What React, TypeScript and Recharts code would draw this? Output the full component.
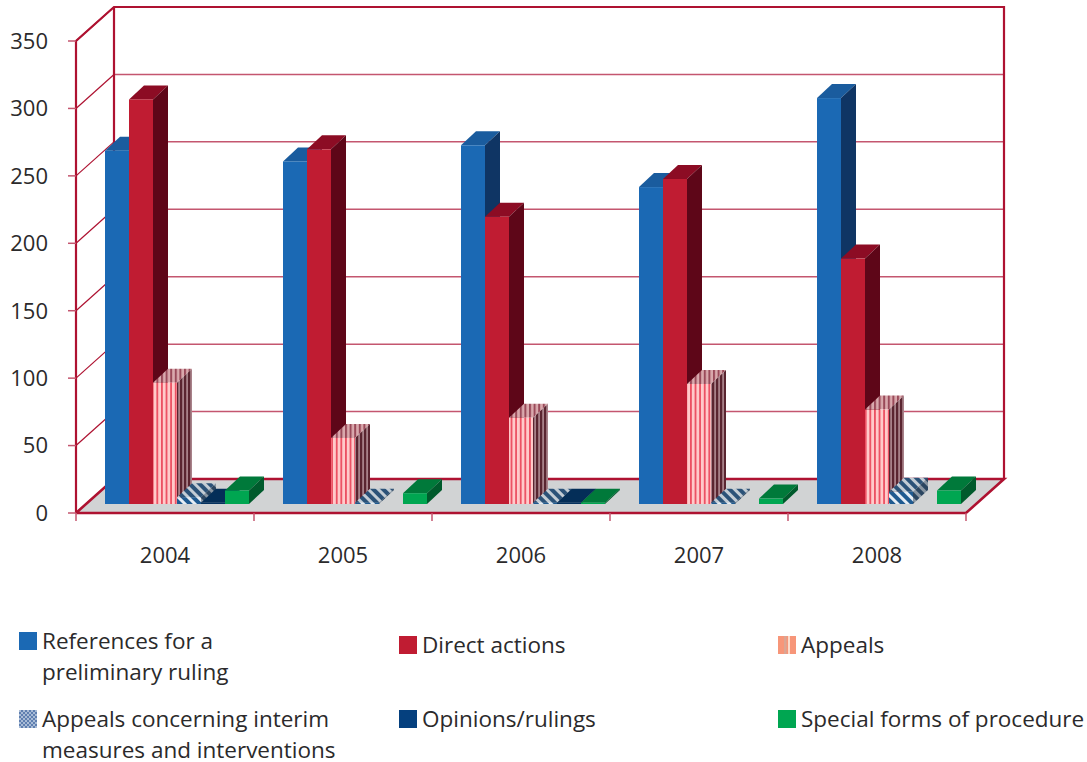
import { BarChart, Bar, XAxis, YAxis, CartesianGrid, Legend } from "recharts";

const years = ["2004", "2005", "2006", "2007", "2008"];
const references = [262, 254, 266, 235, 301];
const directActions = [300, 263, 213, 241, 182];
const appeals = [90, 49, 64, 89, 70];
const interim = [5, 1, 1, 1, 9];
const opinions = [1, 0, 1, 0, 0];
const specialForms = [10, 8, 1, 4, 10];
const yTicks = [0, 50, 100, 150, 200, 250, 300, 350];

const data = years.map((year, i) => ({
  year,
  references: references[i],
  directActions: directActions[i],
  appeals: appeals[i],
  interim: interim[i],
  opinions: opinions[i],
  specialForms: specialForms[i],
}));

const W = 1087;
const H = 762;
const LEFT = 76;
const TOP = 41;
const RIGHT = 966;
const BOTTOM = 513;
// wall depth of the fake 3d box
const DX = 38;
const DY = -34;
const CRIMSON = "#ae1231";
const GRID = "#c4566f";
const FONT = "'Open Sans', sans-serif";
const TEXT = "#2b2a2b";

function Box3D(props: any) {
  const { x, y, width, height, fill, top, side } = props;
  if (!height || height <= 0) return null;
  // bars stand a little inside the floor
  const bx = x + 12;
  const by = y - 9;
  const d = 15;
  const h = -14;
  return (
    <g>
      <polygon points={`${bx},${by} ${bx + d},${by + h} ${bx + width + d},${by + h} ${bx + width},${by}`} fill={top} />
      <polygon
        points={`${bx + width},${by} ${bx + width + d},${by + h} ${bx + width + d},${by + h + height} ${bx + width},${by + height}`}
        fill={side}
      />
      <rect x={bx} y={by} width={width} height={height} fill={fill} />
    </g>
  );
}

function Patterns() {
  return (
    <defs>
      <pattern id="appealFront" patternUnits="userSpaceOnUse" width={4.6} height={4}>
        <rect width={4.6} height={4} fill="#ffcaca" />
        <rect width={1.8} height={4} fill="#ec5062" />
      </pattern>
      <pattern id="appealSide" patternUnits="userSpaceOnUse" width={4} height={4}>
        <rect width={4} height={4} fill="#a88189" />
        <rect width={2.2} height={4} fill="#5a2530" />
      </pattern>
      <pattern id="appealTop" patternUnits="userSpaceOnUse" width={4.6} height={4}>
        <rect width={4.6} height={4} fill="#d9a9ad" />
        <rect width={2} height={4} fill="#9a4a5a" />
      </pattern>
      <pattern id="interimFront" patternUnits="userSpaceOnUse" width={7} height={7} patternTransform="rotate(-45)">
        <rect width={7} height={7} fill="#e6edf4" />
        <rect width={4} height={7} fill="#1f5a90" />
      </pattern>
      <pattern id="interimTop" patternUnits="userSpaceOnUse" width={7} height={7} patternTransform="rotate(-45)">
        <rect width={7} height={7} fill="#c3ccd4" />
        <rect width={4} height={7} fill="#2b5278" />
      </pattern>
      <pattern id="interimSide" patternUnits="userSpaceOnUse" width={7} height={7} patternTransform="rotate(-45)">
        <rect width={7} height={7} fill="#8a96a2" />
        <rect width={4} height={7} fill="#2a4560" />
      </pattern>
      <pattern id="legendAppeals" patternUnits="userSpaceOnUse" width={18} height={18}>
        <rect width={18} height={18} fill="#f79679" />
        <rect x={6} width={2.5} height={18} fill="#dba593" />
        <rect x={10} width={2} height={18} fill="#fbdccc" />
      </pattern>
      <pattern id="legendInterim" patternUnits="userSpaceOnUse" width={4} height={4}>
        <rect width={4} height={4} fill="#5f7fb0" />
        <rect width={2} height={2} fill="#a9bcd6" />
        <rect x={2} y={2} width={2} height={2} fill="#a9bcd6" />
      </pattern>
    </defs>
  );
}

function Floor() {
  return (
    <polygon
      points={`${LEFT},${BOTTOM} ${RIGHT},${BOTTOM} ${RIGHT + DX},${BOTTOM + DY} ${LEFT + DX},${BOTTOM + DY}`}
      fill="#d1d3d4"
    />
  );
}

function Frame() {
  const s = { stroke: CRIMSON, strokeWidth: 2.2, fill: "none" };
  return (
    <g>
      <polyline {...s} points={`${LEFT},${BOTTOM} ${LEFT},${TOP} ${LEFT + DX},${TOP + DY} ${RIGHT + DX},${TOP + DY} ${RIGHT + DX},${BOTTOM + DY}`} />
      <line {...s} x1={LEFT + DX} y1={TOP + DY} x2={LEFT + DX} y2={BOTTOM + DY} />
      <polyline {...s} strokeWidth={2.6} points={`${LEFT},${BOTTOM} ${LEFT + DX},${BOTTOM + DY} ${RIGHT + DX},${BOTTOM + DY} ${RIGHT},${BOTTOM} ${LEFT},${BOTTOM}`} />
    </g>
  );
}

function gridLine(p: any) {
  return (
    <g key={p.key ?? p.y1}>
      <line x1={p.x1} y1={p.y1} x2={p.x1 + DX} y2={p.y1 + DY} stroke={CRIMSON} strokeWidth={1.2} />
      <line x1={p.x1 + DX} y1={p.y1 + DY} x2={p.x2 + DX} y2={p.y1 + DY} stroke={GRID} strokeWidth={1.5} />
    </g>
  );
}

function YearTick(props: any) {
  const { x, y, payload, index } = props;
  const band = (RIGHT - LEFT) / years.length;
  return (
    <g>
      <line x1={x - band / 2} y1={BOTTOM} x2={x - band / 2} y2={BOTTOM + 8} stroke={GRID} strokeWidth={1.5} />
      {index === years.length - 1 && (
        <line x1={x + band / 2} y1={BOTTOM} x2={x + band / 2} y2={BOTTOM + 8} stroke={GRID} strokeWidth={1.5} />
      )}
      <text x={x} y={y + 42} textAnchor="middle" fontSize={22} fontFamily={FONT} fill={TEXT}>
        {payload.value}
      </text>
    </g>
  );
}

const swatches: Record<string, string> = {
  appeals: "url(#legendAppeals)",
  interim: "url(#legendInterim)",
  opinions: "#05407e",
};

// legend cells are laid out by hand to sit on the reference's 3 x 2 grid
const legendCols = [19, 399, 778];
const legendRows = [631, 709];

function ChartLegend({ payload }: any) {
  return (
    <div style={{ position: "relative", width: W, height: 142, fontFamily: FONT, fontSize: 22.5, color: TEXT, lineHeight: "23px" }}>
      {(payload || []).map((entry: any, i: number) => {
        const left = legendCols[i % 3];
        const rowTop = legendRows[i >= 3 ? 1 : 0] - 620;
        const lines = String(entry.value).split("\n");
        const nudge = i < 3 && lines.length === 1 ? 4 : 0;
        return (
          <div key={entry.dataKey} style={{ position: "absolute", left, top: rowTop + nudge }}>
            <svg width={18} height={18} style={{ position: "absolute", left: 0, top: 1 }}>
              <rect width={18} height={18} fill={swatches[entry.dataKey] ?? entry.color} />
            </svg>
            <div style={{ position: "absolute", left: 23, top: -2, whiteSpace: "pre" }}>
              {lines.map((line, j) => (
                <div key={j} style={{ marginTop: j ? 8 : 0 }}>{line}</div>
              ))}
            </div>
          </div>
        );
      })}
    </div>
  );
}

export default function App() {
  return (
    <div style={{ position: "absolute", left: 0, top: 0, width: W, height: H, background: "#fff" }}>
      <BarChart
        width={W}
        height={H}
        data={data}
        margin={{ top: TOP, right: W - RIGHT, bottom: 0, left: 0 }}
        barSize={24}
        barGap={0}
      >
        <Patterns />
        <Floor />
        <CartesianGrid vertical={false} horizontal={gridLine} />
        <Frame />
        <XAxis dataKey="year" height={107} axisLine={false} tickLine={false} interval={0} tick={<YearTick />} />
        <YAxis
          width={LEFT}
          domain={[0, 350]}
          ticks={yTicks}
          axisLine={false}
          tickSize={8}
          tickMargin={20}
          tickLine={{ stroke: GRID, strokeWidth: 1.5 }}
          tick={{ fontSize: 22, fontFamily: FONT, fill: TEXT }}
        />
        <Legend verticalAlign="bottom" height={142} itemSorter={null} content={<ChartLegend />} wrapperStyle={{ left: 0, width: W }} />
        <Bar dataKey="references" name={"References for a\npreliminary ruling"} fill="#1b69b4" isAnimationActive={false}
          shape={(p: any) => <Box3D {...p} top="#1a5c9e" side="#0f3564" />} />
        <Bar dataKey="directActions" name="Direct actions" fill="#c01c32" isAnimationActive={false}
          shape={(p: any) => <Box3D {...p} top="#8c0c24" side="#5e0618" />} />
        <Bar dataKey="appeals" name="Appeals" fill="url(#appealFront)" isAnimationActive={false}
          shape={(p: any) => <Box3D {...p} top="url(#appealTop)" side="url(#appealSide)" />} />
        <Bar dataKey="interim" name={"Appeals concerning interim\nmeasures and interventions"} fill="url(#interimFront)" isAnimationActive={false}
          shape={(p: any) => <Box3D {...p} top="url(#interimTop)" side="url(#interimSide)" />} />
        <Bar dataKey="opinions" name="Opinions/rulings" fill="#05325f" isAnimationActive={false}
          shape={(p: any) => <Box3D {...p} top="#042e58" side="#03223f" />} />
        <Bar dataKey="specialForms" name="Special forms of procedure" fill="#00a651" isAnimationActive={false}
          shape={(p: any) => <Box3D {...p} top="#00793a" side="#005a2c" />} />
      </BarChart>
    </div>
  );
}
